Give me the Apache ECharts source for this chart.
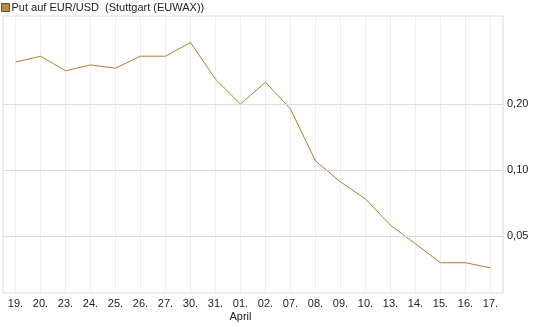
<!DOCTYPE html>
<html>
<head>
<meta charset="utf-8">
<script src="https://cdn.jsdelivr.net/npm/echarts@6/dist/echarts.min.js"></script>
<style>
html,body{margin:0;padding:0;background:#fff;}
#c{width:545px;height:327px;}
</style>
</head>
<body>
<div id="c"></div>
<script>
const categories = ['19.', '20.', '23.', '24.', '25.', '26.', '27.', '30.', '31.', '01.', '02.', '07.', '08.', '09.', '10.', '13.', '14.', '15.', '16.', '17.'];
const monthLabels = {'01.': 'April'};
const seriesName = 'Put auf EUR/USD  (Stuttgart (EUWAX))';
const values = [0.311, 0.331, 0.284, 0.302, 0.292, 0.331, 0.331, 0.382, 0.260, 0.200, 0.252, 0.190, 0.110, 0.0884, 0.0738, 0.0561, 0.0461, 0.0378, 0.0378, 0.0358];
const yTickValues = [0.20, 0.10, 0.05];
const yTickLabels = ['0,20', '0,10', '0,05'];

const FONT = '"Liberation Sans", Arial, sans-serif';
const chart = echarts.init(document.getElementById('c'), null, {renderer: 'canvas'});
chart.setOption({
  animation: false,
  backgroundColor: '#ffffff',
  textStyle: {fontFamily: FONT},
  legend: {
    left: 1, top: 2, padding: 0,
    itemWidth: 8, itemHeight: 8,
    icon: 'rect',
    itemStyle: {color: '#b8894a', borderColor: '#6b4c20', borderWidth: 1},
    textStyle: {fontFamily: FONT, fontSize: 11, color: '#222', padding: [0, 0, 0, -3]},
    data: [seriesName]
  },
  grid: {
    left: 3, top: 16, right: 42, bottom: 34,
    show: true, borderColor: '#dcdcdc', borderWidth: 1, backgroundColor: 'transparent'
  },
  xAxis: {
    type: 'category',
    data: categories,
    boundaryGap: true,
    axisLine: {show: false},
    axisTick: {show: false, alignWithLabel: true},
    splitLine: {show: true, alignWithLabel: true, lineStyle: {color: '#eeeeee', width: 1}},
    axisLabel: {
      fontFamily: FONT, fontSize: 11, color: '#222', margin: 4, lineHeight: 13,
      interval: 0,
      formatter: function (v) { return monthLabels[v] ? v + '\n' + monthLabels[v] : v; }
    }
  },
  yAxis: {
    type: 'log',
    logBase: 2,
    position: 'right',
    min: 0.0275,
    max: 0.505,
    axisLine: {show: false},
    axisTick: {show: false},
    axisLabel: {show: false},
    splitLine: {show: false}
  },
  series: [
    {
      name: 'grid',
      type: 'line',
      data: [],
      z: 1,
      silent: true,
      markLine: {
        silent: true,
        symbol: ['none', 'none'],
        lineStyle: {color: '#dcdcdc', width: 1, type: 'solid'},
        label: {
          show: true, position: 'end', distance: 4,
          fontFamily: FONT, fontSize: 11, color: '#222',
          formatter: '{b}'
        },
        data: yTickValues.map((v, i) => ({yAxis: v, name: yTickLabels[i]}))
      }
    },
    {
      name: seriesName,
      type: 'line',
      data: values,
      z: 3,
      symbol: 'none',
      showSymbol: false,
      lineStyle: {color: '#b07d34', width: 1},
      itemStyle: {color: '#b8894a'}
    }
  ]
});
</script>
</body>
</html>
